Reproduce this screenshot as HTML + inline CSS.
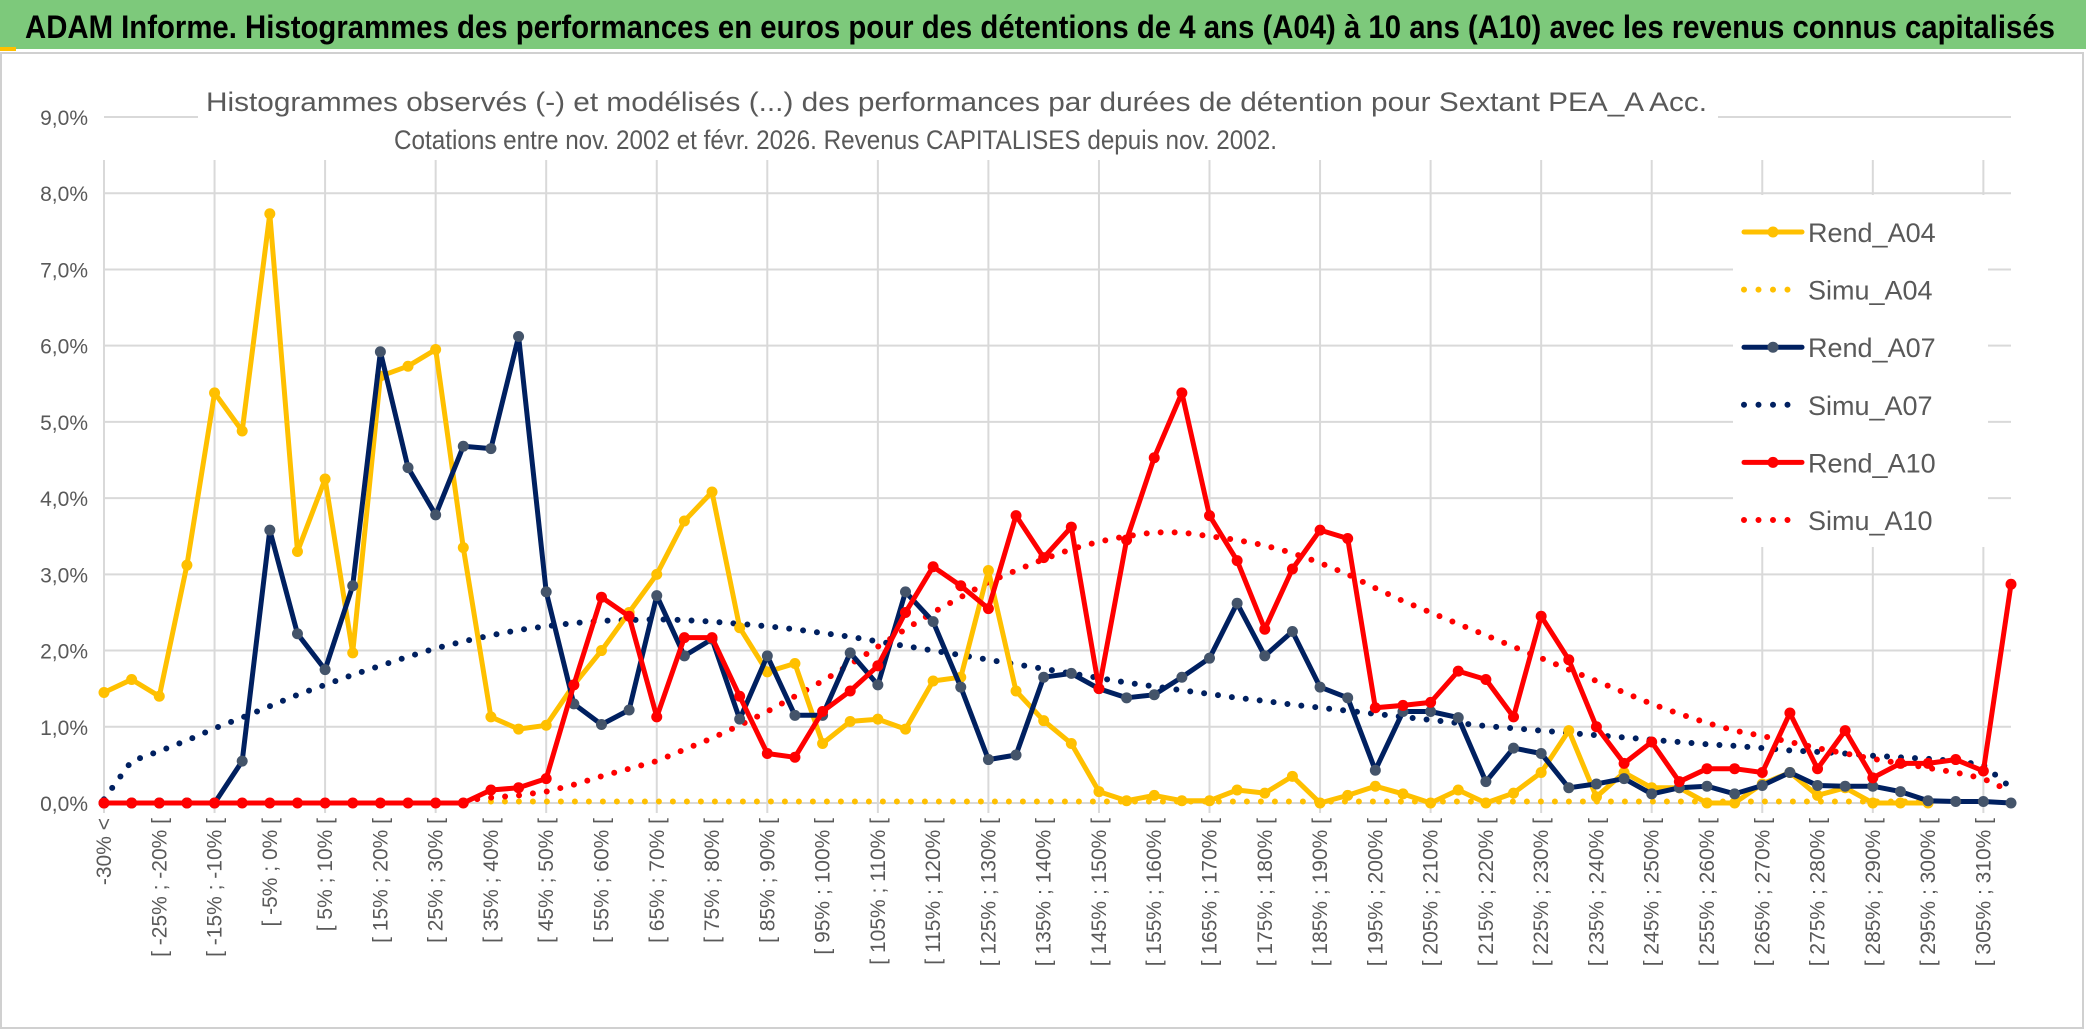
<!DOCTYPE html>
<html><head><meta charset="utf-8"><style>
html,body{margin:0;padding:0;background:#fff;width:2086px;height:1031px;overflow:hidden}
svg{display:block;font-family:"Liberation Sans",sans-serif}
</style></head><body>
<svg id="chart" width="2086" height="1031" viewBox="0 0 2086 1031">
<rect x="0" y="0" width="2086" height="1031" fill="#fff"/>
<rect x="0" y="0" width="2086" height="49" fill="#7DC97B"/>
<rect x="0" y="47" width="16" height="4" fill="#FFC000"/>
<rect x="1" y="53" width="2082" height="975" fill="none" stroke="#d0d0d0" stroke-width="2"/>
<text x="25" y="38" font-size="32" font-weight="bold" fill="#000" textLength="2030" lengthAdjust="spacingAndGlyphs">ADAM Informe. Histogrammes des performances en euros pour des détentions de 4 ans (A04) à 10 ans (A10) avec les revenus connus capitalisés</text>
<g id="grid"></g>
<g id="plot"></g>
<rect x="1733" y="195" width="255" height="352" fill="#fff"/>
<rect x="198" y="70" width="1520" height="90" fill="#fff"/>
<text x="206" y="111" font-size="27" fill="#595959" textLength="1501" lengthAdjust="spacingAndGlyphs">Histogrammes observés (-) et modélisés (...) des performances par durées de détention pour Sextant PEA_A Acc.</text>
<text x="394" y="149" font-size="27" fill="#595959" textLength="883" lengthAdjust="spacingAndGlyphs">Cotations entre nov. 2002 et févr. 2026. Revenus CAPITALISES depuis nov. 2002.</text>
<g id="legend"></g>
<g id="labels"></g>
</svg>
<script>
const rendA04=[1.45,1.62,1.40,3.12,5.38,4.88,7.73,3.30,4.25,1.97,5.60,5.73,5.95,3.35,1.13,0.97,1.02,1.55,2.0,2.5,3.0,3.7,4.08,2.3,1.72,1.83,0.78,1.07,1.1,0.97,1.6,1.65,3.05,1.47,1.08,0.78,0.15,0.03,0.1,0.03,0.03,0.17,0.13,0.35,0.0,0.1,0.22,0.12,0.0,0.17,0.0,0.13,0.4,0.95,0.08,0.4,0.2,0.2,0,0,0.25,0.4,0.1,0.2,0,0,0];
const rendA07=[0,0,0,0,0,0.55,3.58,2.22,1.75,2.85,5.92,4.4,3.78,4.68,4.65,6.12,2.77,1.3,1.03,1.22,2.72,1.93,2.15,1.1,1.93,1.15,1.15,1.97,1.55,2.77,2.38,1.52,0.57,0.63,1.65,1.7,1.5,1.38,1.42,1.65,1.9,2.62,1.93,2.25,1.52,1.38,0.43,1.2,1.2,1.12,0.28,0.72,0.65,0.2,0.25,0.32,0.12,0.2,0.22,0.12,0.23,0.4,0.23,0.22,0.22,0.15,0.03,0.02,0.02,0.0];
const rendA10=[0,0,0,0,0,0,0,0,0,0,0,0,0,0,0.17,0.2,0.32,1.55,2.7,2.45,1.13,2.17,2.17,1.4,0.65,0.6,1.2,1.47,1.8,2.5,3.1,2.85,2.55,3.77,3.22,3.62,1.5,3.45,4.53,5.38,3.77,3.18,2.28,3.07,3.58,3.47,1.25,1.28,1.32,1.73,1.62,1.13,2.45,1.88,1.0,0.52,0.8,0.28,0.45,0.45,0.4,1.18,0.45,0.95,0.33,0.52,0.52,0.57,0.42,2.87];
const simuA04=[null,null,null,null,null,null,null,null,null,null,null,null,null,null,0.02,0.02,0.02,0.02,0.02,0.02,0.02,0.02,0.02,0.02,0.02,0.02,0.02,0.02,0.02,0.02,0.02,0.02,0.02,0.02,0.02,0.02,0.02,0.02,0.02,0.02,0.02,0.02,0.02,0.02,0.02,0.02,0.02,0.02,0.02,0.02,0.02,0.02,0.02,0.02,0.02,0.02,0.02,0.02,0.02,0.02,0.02,0.02,0.02,0.02,0.02,0.02,0.02];
const simuA07=[0.05,0.55,0.68,0.82,0.98,1.12,1.27,1.42,1.55,1.68,1.8,1.92,2.03,2.12,2.2,2.27,2.32,2.36,2.39,2.4,2.41,2.4,2.38,2.35,2.32,2.28,2.23,2.18,2.12,2.06,2.0,1.94,1.88,1.82,1.76,1.7,1.64,1.58,1.53,1.48,1.43,1.38,1.34,1.29,1.25,1.21,1.17,1.13,1.09,1.05,1.01,0.98,0.95,0.92,0.89,0.86,0.83,0.8,0.77,0.75,0.72,0.69,0.67,0.65,0.62,0.6,0.58,0.55,0.5,0.2];
const simuA10=[null,null,null,null,null,null,null,null,null,null,null,null,null,0.03,0.07,0.1,0.15,0.24,0.35,0.45,0.55,0.7,0.85,1.02,1.2,1.4,1.6,1.82,2.05,2.28,2.5,2.7,2.9,3.05,3.2,3.33,3.43,3.5,3.55,3.55,3.5,3.45,3.38,3.28,3.15,3.0,2.82,2.65,2.5,2.35,2.2,2.05,1.9,1.75,1.6,1.45,1.3,1.17,1.05,0.95,0.88,0.8,0.72,0.65,0.58,0.52,0.46,0.4,0.32,0.15];
const yTicks=[0,1,2,3,4,5,6,7,8,9];
const categories=[];
categories.push("-30% <");
for(let k=1;k<70;k++){const a=-35+5*k;categories.push("[ "+a+"% ; "+(a+5)+"% [");}

const NS="http://www.w3.org/2000/svg";
const X0=104,X1=2011,Y0=803,YT=117;
const xs=k=>X0+(X1-X0)*k/(categories.length-1);
const ys=v=>Y0-(Y0-YT)*v/9;
function mk(tag,attrs,parent){const e=document.createElementNS(NS,tag);for(const a in attrs)e.setAttribute(a,attrs[a]);parent.appendChild(e);return e;}
const grid=document.getElementById('grid'),plot=document.getElementById('plot'),labels=document.getElementById('labels'),legend=document.getElementById('legend');

yTicks.forEach(t=>{
  const l=mk('line',{x1:X0,x2:X1,y1:ys(t),y2:ys(t),stroke:'#d9d9d9','stroke-width':2},grid);
  
  
  const tx=mk('text',{x:88,y:ys(t)+8,'font-size':21,fill:'#595959','text-anchor':'end'},labels);
  tx.textContent=t.toFixed(1).replace('.',',')+'%';
  
  
});
for(let k=0;k<categories.length;k+=4){
  const l=mk('line',{x1:xs(k),x2:xs(k),y1:160,y2:Y0+10,stroke:'#d9d9d9','stroke-width':2},grid);
  
  
}
categories.forEach((c,k)=>{
  if(k%2===1)return;
  const x=xs(k)+7,y=818;
  const tx=mk('text',{x:x,y:y,'font-size':21,fill:'#595959','text-anchor':'end',transform:'rotate(-90 '+x+' '+y+')'},labels);
  tx.textContent=c;
  
  
});

function series(data,color,name,dotted,marker){
  const pts=[];data.forEach((v,k)=>{if(v!==null)pts.push([xs(k),ys(v)]);});
  const d=pts.map((p,i)=>(i?'L':'M')+p[0].toFixed(1)+' '+p[1].toFixed(1)).join(' ');
  const attrs={d:d,fill:'none',stroke:color,'stroke-linejoin':'round','stroke-linecap':'round'};
  if(dotted){attrs['stroke-width']=6;attrs['stroke-dasharray']='0 14';}else attrs['stroke-width']=5;
  const p=mk('path',attrs,plot);
  
  
  if(marker){pts.forEach(q=>{
    const c=mk('circle',{cx:q[0],cy:q[1],r:5.5,fill:marker},plot);
    
    
  });}
}
series(simuA04,'#FFC000','simu-a04',true,null);
series(simuA07,'#002060','simu-a07',true,null);
series(simuA10,'#FF0000','simu-a10',true,null);
series(rendA04,'#FFC000','rend-a04',false,'#FFC000');
series(rendA07,'#002060','rend-a07',false,'#44546A');
series(rendA10,'#FF0000','rend-a10',false,'#FF0000');

const legNames=['Rend_A04','Simu_A04','Rend_A07','Simu_A07','Rend_A10','Simu_A10'];
const legColors=['#FFC000','#FFC000','#002060','#002060','#FF0000','#FF0000'];
legNames.forEach((n,i)=>{
  const y=232+i*57.6;
  const g=mk('g',{},legend);
  
  
  if(i%2===0){
    mk('line',{x1:1744,x2:1802,y1:y,y2:y,stroke:legColors[i],'stroke-width':5,'stroke-linecap':'round'},g);
    mk('circle',{cx:1773,cy:y,r:5.5,fill:i===2?'#44546A':legColors[i]},g);
  } else {
    mk('line',{x1:1744,x2:1802,y1:y,y2:y,stroke:legColors[i],'stroke-width':6,'stroke-linecap':'round','stroke-dasharray':'0 14.5'},g);
  }
  const t=mk('text',{x:1808,y:y+10,'font-size':27,fill:'#595959'},g);
  t.textContent=n;
});
</script>
</body></html>
